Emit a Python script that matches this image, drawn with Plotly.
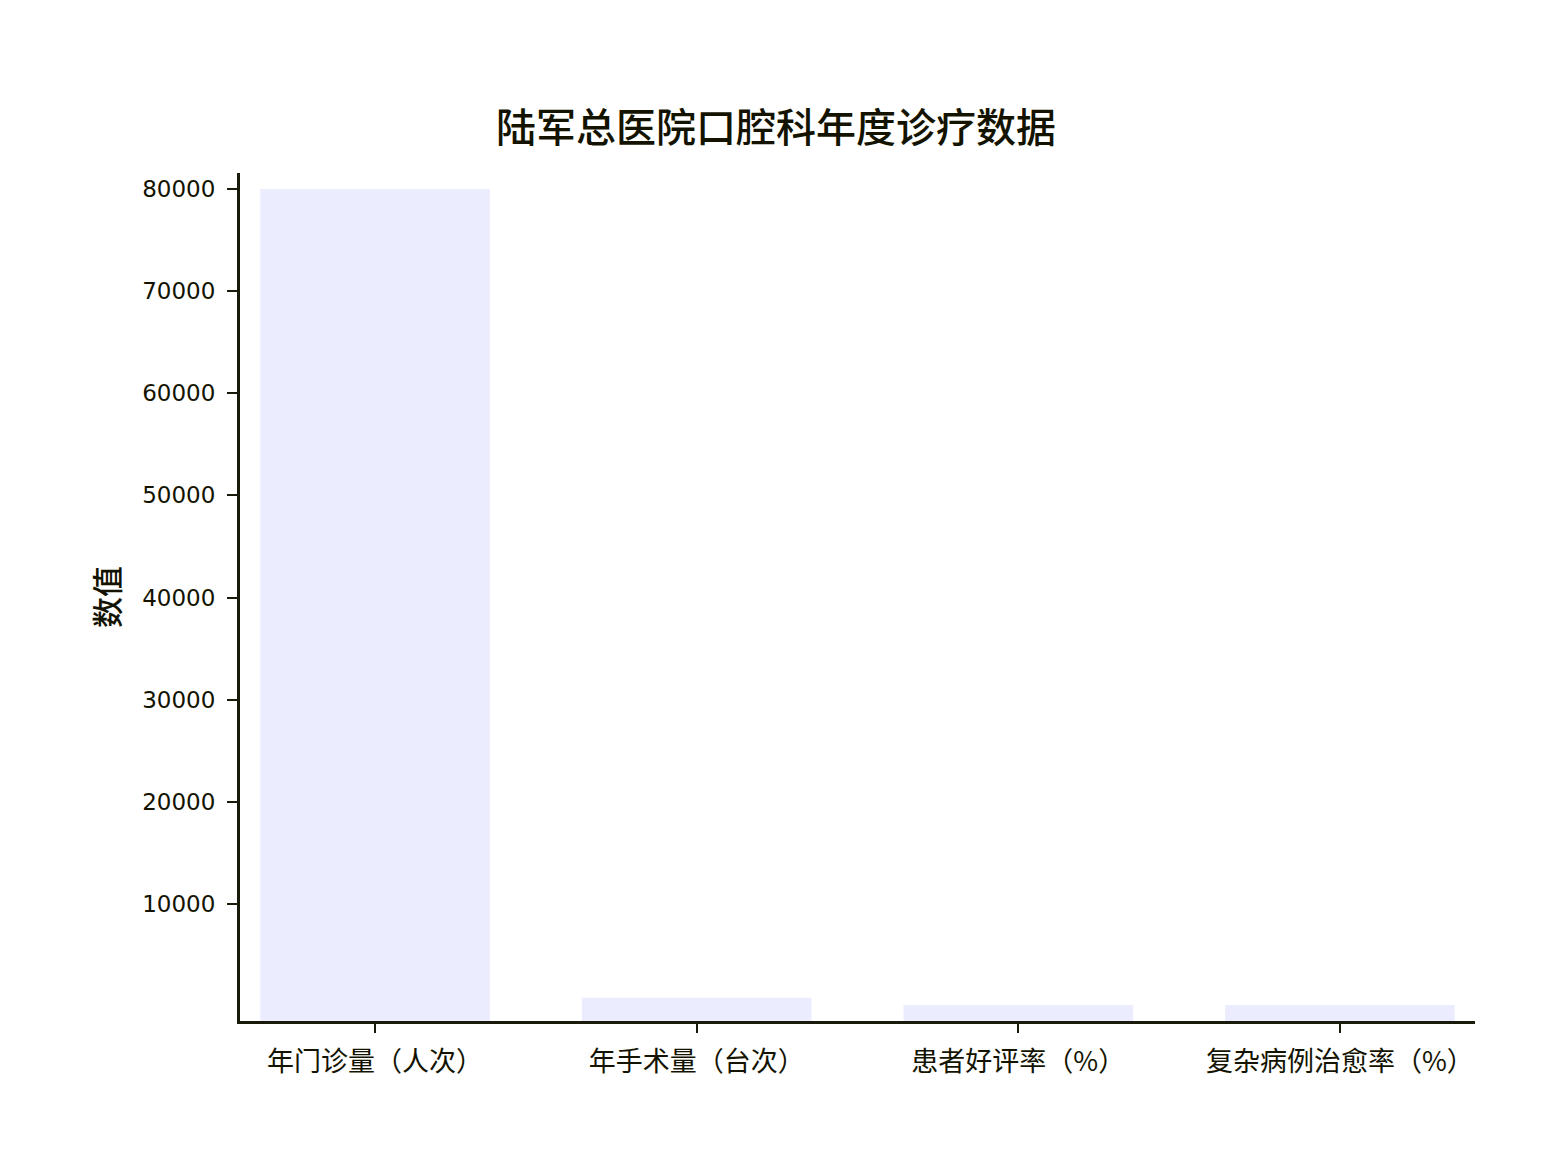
import plotly.graph_objects as go

categories = ["年门诊量（人次）", "年手术量（台次）", "患者好评率（%）", "复杂病例治愈率（%）"]
values = [80000, 800, 98, 95]
y_ticks = [10000, 20000, 30000, 40000, 50000, 60000, 70000, 80000]

title_text = "陆军总医院口腔科年度诊疗数据"
y_title = "数值"

W, H = 1556, 1150
ml, mt = 232, 165
pw, ph = 1235, 848
mr = W - ml - pw
mb = H - mt - ph
y_min, y_max = -1470, 81570

axis_color = "#1a1a0a"
text_color = "#131300"
cjk = "Noto Sans CJK SC, sans-serif"

fig = go.Figure()
fig.add_trace(go.Bar(
    x=categories,
    y=[v - y_min for v in values],
    base=y_min,
    marker=dict(color="#ECECFF", line=dict(width=0)),
    width=0.714,
    hoverinfo="skip",
))

OFF = 8  # page body offset
def px2x(px):
    return (px - OFF - ml) / pw
def py2y(py):
    return (H - mb - (py - OFF)) / ph

# card border: right edge with rounded top-right corner
xe = px2x(1552)
r = 14
rx, ry = r / pw, r / ph
yt = py2y(0)
fig.add_shape(type="line", xref="paper", yref="paper",
              x0=xe, x1=xe, y0=py2y(1150), y1=yt - ry,
              line=dict(color="#e3e3e3", width=2), layer="above")
path = f"M {xe - rx - 0.05},{yt} L {xe - rx},{yt} Q {xe},{yt} {xe},{yt - ry}"
fig.add_shape(type="path", path=path, xref="paper", yref="paper",
              line=dict(color="#e3e3e3", width=2), layer="above")

fig.update_layout(
    width=W, height=H,
    margin=dict(l=ml, r=mr, t=mt, b=mb),
    paper_bgcolor="white",
    plot_bgcolor="white",
    showlegend=False,
    title=dict(text=title_text, x=(776 - OFF) / W, xanchor="center", y=1 - (128 - OFF) / H, yanchor="middle",
               font=dict(family=cjk, size=40, color=text_color, weight=500)),
    xaxis=dict(
        type="category",
        range=[-0.42, 3.42],
        showline=True, linecolor=axis_color, linewidth=3,
        ticks="outside", ticklen=9, tickwidth=2, tickcolor=axis_color,
        ticklabelstandoff=6,
        tickfont=dict(family=cjk, size=27, color=text_color),
        showgrid=False, zeroline=False,
    ),
    yaxis=dict(
        range=[y_min, y_max],
        tickvals=y_ticks,
        ticktext=[str(t) for t in y_ticks],
        showline=True, linecolor=axis_color, linewidth=3,
        ticks="outside", ticklen=10, tickwidth=2, tickcolor=axis_color,
        ticklabelstandoff=7,
        tickfont=dict(family="DejaVu Sans, sans-serif", size=23, color=text_color),
        title=dict(text=y_title, font=dict(family=cjk, size=31, color=text_color, weight=500), standoff=14),
        showgrid=False, zeroline=False,
    ),
)

fig.write_html("out.html")
